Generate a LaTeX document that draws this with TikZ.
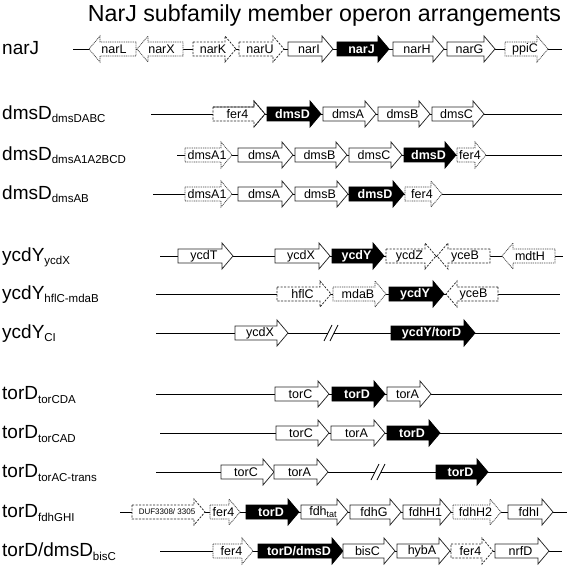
\documentclass[tikz,border=0pt]{standalone}
\usepackage{fontspec}
\setmainfont{Liberation Sans}
\newcommand\lsub[1]{\raisebox{-3.5pt}{\fontsize{11.5}{12}\selectfont #1}}
\newcommand\gsub[1]{\raisebox{-2.5pt}{\fontsize{9}{9}\selectfont #1}}
\def\gbh{7}
\def\ghh{13}
\def\ghl{11}
% #1 name, #2 tail x, #3 tip x, #4 y, #5 box style, #6 label style, #7 text
\newcommand\gene[7]{%
  \pgfmathsetmacro\gd{ifthenelse(#3>#2,1,-1)}%
  \pgfmathsetmacro\gs{#3-\gd*\ghl}%
  \pgfmathsetmacro\gc{(#2+#3)/2-\gd*1.5}%
  \draw[gbox,#5] ({#2},{#4-\gbh}) -- (\gs,{#4-\gbh}) -- (\gs,{#4-\ghh}) -- ({#3},{#4})
     -- (\gs,{#4+\ghh}) -- (\gs,{#4+\gbh}) -- ({#2},{#4+\gbh}) -- cycle;
  \coordinate (#1-tail) at ({#2},{#4});
  \coordinate (#1-tip) at ({#3},{#4});
  \node[glab,#6] (#1) at (\gc,{#4}) {#7};
}
\tikzset{
  gbox/.style={draw=black!85, fill=white, line width=0.75pt, line join=miter},
  gdash/.style={dash pattern=on 2.2pt off 1.3pt},
  gdot/.style={draw=black!75, dash pattern=on 1pt off 0.8pt},
  gblack/.style={fill=black, draw=black},
  glab/.style={inner sep=0pt, font=\fontsize{12.5}{12.5}\selectfont},
  gwhite/.style={text=white, font=\fontsize{12.5}{12.5}\selectfont\bfseries},
  backbone/.style={line width=0.8pt},
  brk/.style={line width=0.8pt},
  rowlab/.style={anchor=base west, inner sep=0pt, font=\fontsize{19}{19}\selectfont},
}
\begin{document}
\begin{tikzpicture}[x=1pt,y=-1pt]
\useasboundingbox (0,0) rectangle (567,569);
\node[anchor=base, inner sep=0pt, font=\fontsize{23.2}{23.2}\selectfont] (title) at (324.5,22) {NarJ subfamily member operon arrangements};

% row labels
\node[rowlab] (L1) at (2,55) {narJ};
\node[rowlab] (L2) at (2,119.5) {dmsD\lsub{dmsDABC}};
\node[rowlab] (L3) at (2,160.5) {dmsD\lsub{dmsA1A2BCD}};
\node[rowlab] (L4) at (2,199.5) {dmsD\lsub{dmsAB}};
\node[rowlab] (L5) at (2,261) {ycdY\lsub{ycdX}};
\node[rowlab] (L6) at (2,299) {ycdY\lsub{hflC-mdaB}};
\node[rowlab] (L7) at (2,338) {ycdY\lsub{CI}};
\node[rowlab] (L8) at (2,399.5) {torD\lsub{torCDA}};
\node[rowlab] (L9) at (2,438.5) {torD\lsub{torCAD}};
\node[rowlab] (L10) at (2,477.5) {torD\lsub{torAC-trans}};
\node[rowlab] (L11) at (2,517.5) {torD\lsub{fdhGHI}};
\node[rowlab] (L12) at (2,556.5) {torD/dmsD\lsub{bisC}};

% backbones
\coordinate (a1) at (73,49);   \coordinate (b1) at (562,49);
\coordinate (a2) at (151,114); \coordinate (b2) at (562,114);
\coordinate (a3) at (177,155); \coordinate (b3) at (562,155);
\coordinate (a4) at (153,194); \coordinate (b4) at (562,194);
\coordinate (a5) at (160,256); \coordinate (b5) at (563,256);
\coordinate (a6) at (156,294); \coordinate (b6) at (560,294);
\coordinate (a7) at (156,333); \coordinate (k7a) at (328,333); \coordinate (k7b) at (334,333); \coordinate (b7) at (560,333);
\coordinate (a8) at (156,394); \coordinate (b8) at (562,394);
\coordinate (a9) at (160,433); \coordinate (b9) at (562,433);
\coordinate (a10) at (156,472); \coordinate (k10a) at (375,472); \coordinate (k10b) at (381,472); \coordinate (b10) at (562,472);
\coordinate (a11) at (120,512); \coordinate (b11) at (567,512);
\coordinate (a12) at (160,551); \coordinate (b12) at (562,551);
\foreach \i in {1,2,3,4,5,6,8,9,11,12} \draw[backbone] (a\i) -- (b\i);
\draw[backbone] (a7) -- (k7a) (k7b) -- (b7);
\draw[backbone] (a10) -- (k10a) (k10b) -- (b10);
\draw[brk] ([shift={(-4,8)}]k7a) -- ([shift={(4,-8)}]k7a);
\draw[brk] ([shift={(-4,8)}]k7b) -- ([shift={(4,-8)}]k7b);
\draw[brk] ([shift={(-4,8)}]k10a) -- ([shift={(4,-8)}]k10a);
\draw[brk] ([shift={(-4,8)}]k10b) -- ([shift={(4,-8)}]k10b);

% row 1
\gene{narL}{136}{89}{49}{gdot}{}{narL}
\gene{narX}{183}{137}{49}{gdot}{}{narX}
\gene{narK}{193}{236}{49}{gdash}{}{narK}
\gene{narU}{239}{284}{49}{gdash}{}{narU}
\gene{narI}{288}{333}{49}{}{}{narI}
\gene{narJg}{337}{389}{49}{gblack}{gwhite}{narJ}
\gene{narH}{393}{444}{49}{}{}{narH}
\gene{narG}{447}{495}{49}{}{}{narG}
\gene{ppiC}{505}{548}{49}{gdot}{}{ppiC}

% row 2
\gene{r2fer}{213}{265}{114}{gdash}{}{fer4}
\draw[line width=0.75pt, draw=black!85] (213,{114-\gbh}) -- (254,{114-\gbh}) -- (254,{114-\ghh}) -- (265,114) -- (254,{114+\ghh});
\gene{r2D}{267}{321}{114}{gblack}{gwhite}{dmsD}
\gene{r2A}{323}{376}{114}{}{}{dmsA}
\gene{r2B}{378}{430}{114}{}{}{dmsB}
\gene{r2C}{432}{484}{114}{}{}{dmsC}

% row 3
\gene{r3A1}{185}{232}{155}{gdot}{}{dmsA1}
\gene{r3A}{238}{293}{155}{}{}{dmsA}
\gene{r3B}{295}{347}{155}{}{}{dmsB}
\gene{r3C}{349}{402}{155}{}{}{dmsC}
\gene{r3D}{404}{456}{155}{gblack}{gwhite}{dmsD}
\gene{r3fer}{457}{486}{155}{gdot}{}{fer4}

% row 4
\gene{r4A1}{185}{232}{194}{gdot}{}{dmsA1}
\gene{r4A}{238}{293}{194}{}{}{dmsA}
\gene{r4B}{295}{348}{194}{}{}{dmsB}
\gene{r4D}{349}{404}{194}{gblack}{gwhite}{dmsD}
\gene{r4fer}{405}{442}{194}{gdot}{}{fer4}

% row 5
\gene{r5T}{178}{233}{256}{}{}{ycdT}
\gene{r5X}{275}{330}{256}{}{}{ycdX}
\gene{r5Y}{332}{384}{256}{gblack}{gwhite}{ycdY}
\gene{r5Z}{386}{436}{256}{gdash}{}{ycdZ}
\gene{r5B}{490}{437}{256}{gdash}{}{yceB}
\gene{r5H}{555}{502}{256}{gdot}{}{mdtH}

% row 6
\gene{r6h}{277}{331}{294}{gdash}{}{hflC}
\gene{r6m}{333}{386}{294}{gdot}{}{mdaB}
\gene{r6Y}{389}{444}{294}{gblack}{gwhite}{ycdY}
\gene{r6B}{498}{446}{294}{gdash}{}{yceB}

% row 7
\gene{r7X}{235}{288}{333}{}{}{ycdX}
\gene{r7Y}{391}{475}{333}{gblack}{gwhite}{ycdY/torD}

% row 8
\gene{r8C}{275}{329}{394}{}{}{torC}
\gene{r8D}{332}{385}{394}{gblack}{gwhite}{torD}
\gene{r8A}{387}{431}{394}{}{}{torA}

% row 9
\gene{r9C}{276}{329}{433}{}{}{torC}
\gene{r9A}{331}{385}{433}{}{}{torA}
\gene{r9D}{387}{440}{433}{gblack}{gwhite}{torD}

% row 10
\gene{r10C}{221}{274}{472}{}{}{torC}
\gene{r10A}{274}{328}{472}{}{}{torA}
\gene{r10D}{436}{488}{472}{gblack}{gwhite}{torD}

% row 11
\gene{r11duf}{132}{205}{512}{gdash}{font=\fontsize{8}{8}\selectfont}{DUF3308/ 3305}
\gene{r11fer}{210}{240}{512}{gdot}{}{fer4}
\gene{r11D}{246}{299}{512}{gblack}{gwhite}{torD}
\gene{r11tat}{301}{348}{512}{}{}{fdh\gsub{tat}}
\gene{r11G}{350}{401}{512}{}{}{fdhG}
\gene{r11H1}{403}{451}{512}{}{}{fdhH1}
\gene{r11H2}{453}{501}{512}{gdot}{}{fdhH2}
\gene{r11I}{508}{553}{512}{}{}{fdhI}

% row 12
\gene{r12fer}{213}{253}{551}{gdot}{}{fer4}
\gene{r12D}{258}{343}{551}{gblack}{gwhite}{torD/dmsD}
\gene{r12bis}{343}{395}{551}{}{}{bisC}
\gene{r12hyb}{397}{450}{551}{}{}{hybA}
\gene{r12fer2}{451}{493}{551}{gdash}{}{fer4}
\gene{r12nrf}{495}{549}{551}{}{}{nrfD}
\end{tikzpicture}
\end{document}
